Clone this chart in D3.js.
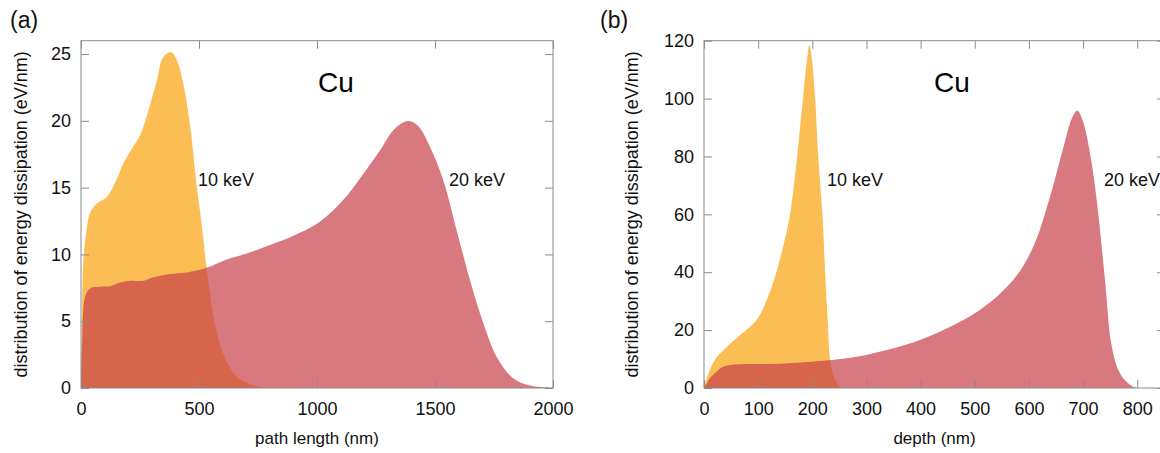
<!DOCTYPE html>
<html><head><meta charset="utf-8">
<script src="https://cdn.jsdelivr.net/npm/d3@7/dist/d3.min.js"></script>
<style>
html,body{margin:0;padding:0;background:#fff;}
svg{display:block;font-family:"Liberation Sans",Arial,sans-serif;}
</style></head>
<body>
<svg id="chart" width="1160" height="453"></svg>
<script>
// ---- Panel (a): path length ----
const aXTicks = [0, 500, 1000, 1500, 2000];
const aYTicks = [0, 5, 10, 15, 20, 25];
const a10x = [0, 4, 10, 24, 38, 66, 109, 151, 179, 215, 250, 281, 321, 349, 381, 405, 431, 465, 487, 511, 532, 564, 602, 660, 730, 800];
const a10y = [0, 5.5, 9.5, 11.9, 13.1, 13.8, 14.3, 15.6, 16.8, 17.9, 18.9, 20.5, 23.0, 24.8, 25.15, 24.6, 23.0, 19.3, 15.6, 12.3, 9.0, 5.1, 2.6, 0.85, 0.2, 0];
const a20x = [0, 5, 17, 38, 80, 123, 165, 208, 264, 306, 377, 448, 532, 617, 702, 815, 900, 1000, 1069, 1132, 1195, 1267, 1323, 1367, 1394, 1430, 1479, 1535, 1592, 1648, 1705, 1761, 1832, 1903, 1960, 2000];
const a20y = [0, 3.5, 6.8, 7.45, 7.58, 7.62, 7.9, 8.03, 8.03, 8.28, 8.53, 8.65, 9.0, 9.62, 10.07, 10.8, 11.4, 12.3, 13.3, 14.5, 16.0, 17.8, 19.3, 19.9, 19.97, 19.6, 18.05, 15.56, 11.8, 8.08, 4.84, 2.34, 0.72, 0.18, 0.05, 0];

// ---- Panel (b): depth ----
const bXTicks = [0, 100, 200, 300, 400, 500, 600, 700, 800];
const bYTicks = [0, 20, 40, 60, 80, 100, 120];
const b10x = [0, 6, 20, 36, 63, 97, 125, 143, 158, 172, 183, 190, 194.5, 199, 205, 211, 219, 225, 228.5, 233, 240, 251, 260];
const b10y = [0, 3.9, 9.7, 13.1, 17.7, 23.5, 35, 46.5, 59, 80, 100.6, 113, 118.5, 114, 100.6, 80, 59, 35, 23.5, 9.7, 3.9, 0.45, 0];
const b20x = [0, 5, 11, 23, 36, 66, 128, 220, 282, 343, 400, 450, 510, 571, 608, 639, 664, 680, 689.4, 700, 716, 728, 740.5, 753, 768, 787, 800];
const b20y = [0, 1.6, 3.35, 5.6, 7.4, 8.2, 8.3, 9.4, 10.8, 13.4, 16.7, 20.7, 27, 37.3, 48.8, 66.1, 83.4, 93.5, 95.8, 92, 77.6, 60.4, 37.3, 14.3, 5.1, 1.04, 0];

const seriesLabels = ["10 keV", "20 keV"];
const elementLabel = "Cu";
const yTitle = "distribution of energy dissipation (eV/nm)";

const svg = d3.select("#chart");
const frameColor = "#8a8a8a";
const orange = "rgb(251,190,85)";
const red = "rgb(200,62,72)";

function panel(opts) {
  const {id, left, right, top, bottom, xDomain, yDomain, xTicks, yTicks, s10, s20, xTitle, tag, tagX,
         yTitleX, cuPos, lab10, lab20} = opts;
  const x = d3.scaleLinear().domain(xDomain).range([left, right]);
  const y = d3.scaleLinear().domain(yDomain).range([bottom, top]);
  const g = svg.append("g");
  const clipId = "clip" + id;
  svg.append("clipPath").attr("id", clipId).append("rect")
     .attr("x", left).attr("y", top).attr("width", right - left).attr("height", bottom - top);

  const area = d3.area().x(d => x(d[0])).y0(y(0)).y1(d => y(d[1])).curve(d3.curveCatmullRom.alpha(0.5));
  const d10 = s10[0].map((v, i) => [v, s10[1][i]]);
  const d20 = s20[0].map((v, i) => [v, s20[1][i]]);
  const fills = g.append("g").attr("clip-path", `url(#${clipId})`);
  fills.append("path").datum(d10).attr("d", area).attr("fill", orange);
  fills.append("path").datum(d20).attr("d", area).attr("fill", red).attr("fill-opacity", 0.7);

  const tl = 8;
  const axB = d3.axisBottom(x).tickValues(xTicks).tickSizeInner(-tl).tickSizeOuter(0).tickPadding(14).tickFormat(d3.format("d"));
  const axT = d3.axisTop(x).tickValues(xTicks).tickSizeInner(-tl).tickSizeOuter(0).tickFormat("");
  const axL = d3.axisLeft(y).tickValues(yTicks).tickSizeInner(-tl).tickSizeOuter(0).tickPadding(10).tickFormat(d3.format("d"));
  const axR = d3.axisRight(y).tickValues(yTicks).tickSizeInner(-tl).tickSizeOuter(0).tickFormat("");
  const gb = g.append("g").attr("transform", `translate(0,${bottom})`).call(axB);
  const gt = g.append("g").attr("transform", `translate(0,${top})`).call(axT);
  const gl = g.append("g").attr("transform", `translate(${left},0)`).call(axL);
  const gr = g.append("g").attr("transform", `translate(${right},0)`).call(axR);
  [gb, gt, gl, gr].forEach(a => {
    a.select(".domain").remove();
    a.selectAll(".tick line").attr("stroke", frameColor);
    a.selectAll(".tick text").attr("fill", "#111").style("font-size", "18px")
      .style("font-family", '"Liberation Sans",Arial,sans-serif');
  });
  g.append("rect").attr("x", left).attr("y", top).attr("width", right - left).attr("height", bottom - top)
    .attr("fill", "none").attr("stroke", frameColor).attr("stroke-width", 1);

  g.append("text").attr("x", (left + Math.min(right, 1165)) / 2).attr("y", 444).attr("text-anchor", "middle")
    .style("font-size", "17px").attr("fill", "#111").text(xTitle);
  g.append("text").attr("transform", `translate(${yTitleX},${(top + bottom) / 2}) rotate(-90)`)
    .attr("text-anchor", "middle").attr("dominant-baseline", "central")
    .style("font-size", "18px").attr("fill", "#111").text(yTitle);
  g.append("text").attr("x", tagX).attr("y", 28).style("font-size", "23px").attr("fill", "#111").text(tag);
  g.append("text").attr("x", cuPos[0]).attr("y", cuPos[1]).attr("text-anchor", "middle")
    .attr("dominant-baseline", "central").style("font-size", "28px").attr("fill", "#000").text(elementLabel);
  g.append("text").attr("x", lab10[0]).attr("y", lab10[1]).attr("dominant-baseline", "central")
    .style("font-size", "18px").attr("fill", "#111").text(seriesLabels[0]);
  g.append("text").attr("x", lab20[0]).attr("y", lab20[1]).attr("dominant-baseline", "central")
    .style("font-size", "18px").attr("fill", "#111").text(seriesLabels[1]);
}

panel({id: "a", left: 81, right: 553, top: 40.7, bottom: 388, xDomain: [0, 2000], yDomain: [0, 26],
  xTicks: aXTicks, yTicks: aYTicks, s10: [a10x, a10y], s20: [a20x, a20y], xTitle: "path length (nm)",
  tag: "(a)", tagX: 10, yTitleX: 21, cuPos: [336, 82], lab10: [198, 180], lab20: [449, 180]});

panel({id: "b", left: 704, right: 1165, top: 40.7, bottom: 388, xDomain: [0, 851.3], yDomain: [0, 120],
  xTicks: bXTicks, yTicks: bYTicks, s10: [b10x, b10y], s20: [b20x, b20y], xTitle: "depth (nm)",
  tag: "(b)", tagX: 600, yTitleX: 632, cuPos: [952, 82], lab10: [827, 180], lab20: [1104, 180]});
</script>
</body></html>
